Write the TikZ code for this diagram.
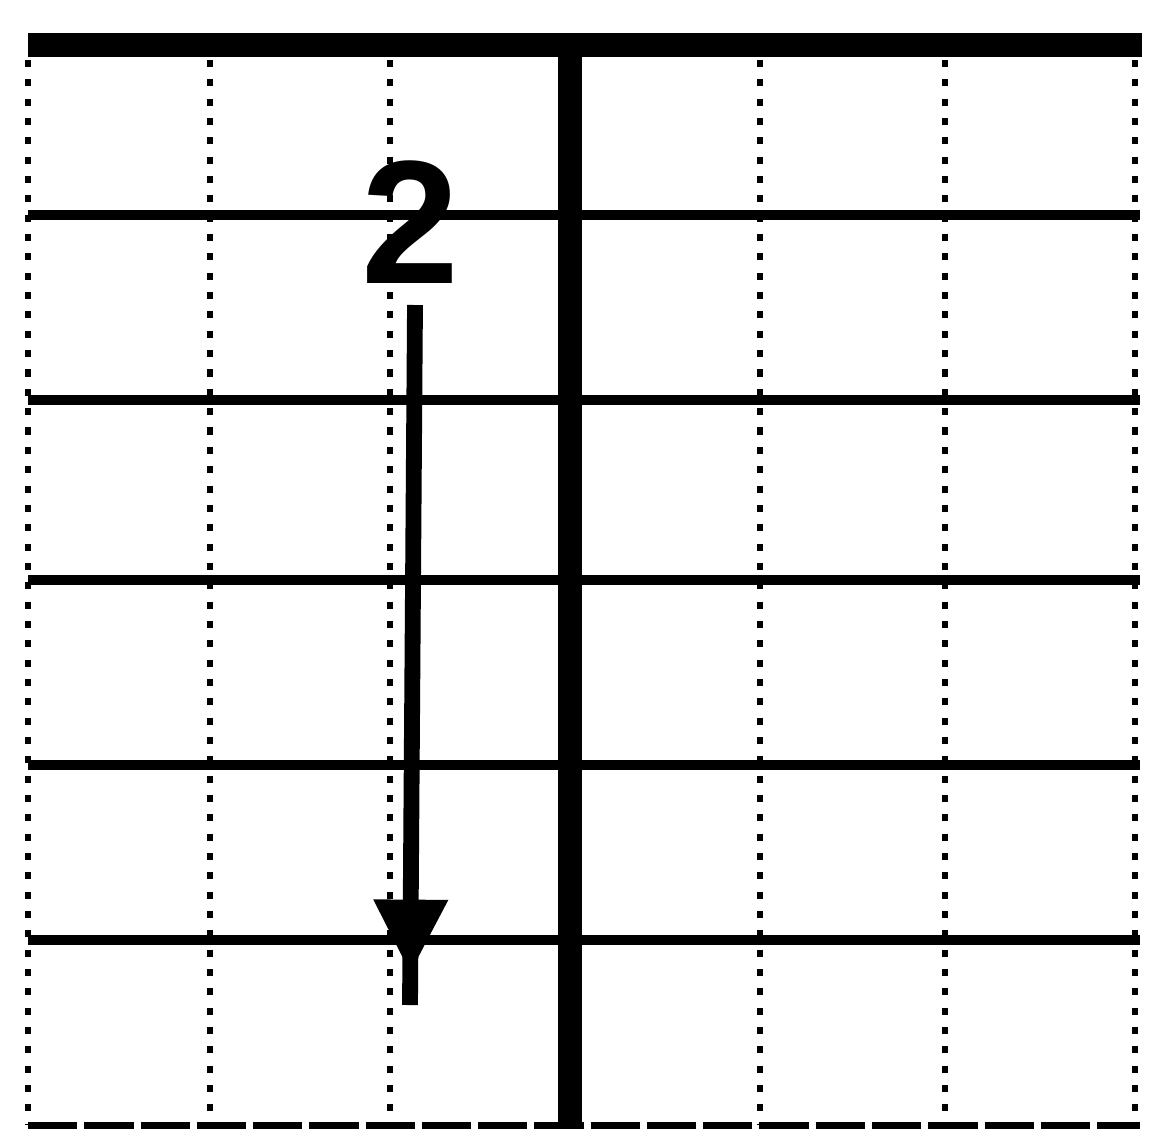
\documentclass[tikz,border=0pt]{standalone}
\usepackage{fontspec}
\setsansfont{Liberation Sans}
\usetikzlibrary{positioning,arrows.meta,decorations.markings}
\tikzset{every picture/.style={line width=0.75pt}}

\begin{document}
\begin{tikzpicture}[x=0.01cm, y=-0.01cm,
        fret/.style={line width=3pt},
        gstring/.style={line width=1.6pt, dash pattern=on 2pt off 3.5pt},
        nut/.style={line width=6.6pt},
        move/.style={line width=4.5pt, postaction={decorate},
            decoration={markings, mark=at position 0.955 with {\arrow{Triangle[length=21pt, width=20pt]}}}}]
        \useasboundingbox (0,0) rectangle (1149,1142);
        % strings
        \foreach \x in {28,210,390,760,945,1135}
            \draw[gstring] (\x,60) -- (\x,1125);
        % frets
        \foreach \y in {215,400,580,765,940}
            \draw[fret] (28,\y) -- (1140,\y);
        \draw[line width=2pt, dash pattern=on 14pt off 2pt] (28,1125) -- (1140,1125);
        \draw[nut] (28,45) -- (1142,45);
        \draw[line width=6.8pt] (570,45) -- (570,1125);
        % finger
        \node[font=\fontsize{50}{50}\sffamily\bfseries, inner sep=0pt] (num) at (410,222) {2};
        \coordinate (tail) at (415,305);
        \coordinate (head) at (410,1005);
        \draw[move] (tail) -- (head);
    \end{tikzpicture}
\end{document}
